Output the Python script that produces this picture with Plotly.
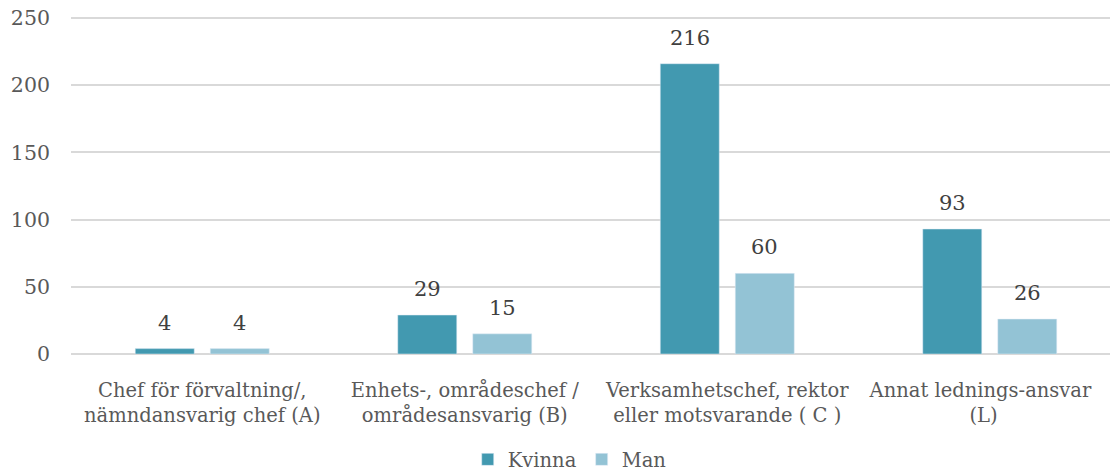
import plotly.graph_objects as go

categories = ["Chef för förvaltning/,<br>nämndansvarig chef (A)",
              "Enhets-, områdeschef /<br>områdesansvarig (B)",
              "Verksamhetschef, rektor<br>eller motsvarande ( C )",
              "Annat lednings-ansvar<br>(L)"]
kvinna = [4, 29, 216, 93]
man = [4, 15, 60, 26]
y_ticks = [0, 50, 100, 150, 200, 250]

# display text of the category labels (the last one nudged left to stay inside, as in the reference)
NB = "\u00a0"
tick_text = categories[:3] + ["Annat lednings-ansvar" + NB * 3 + "<br>(L)" + NB * 2]

FONT = "DejaVu Serif"
TXT = "#595959"

fig = go.Figure()
fig.add_trace(go.Bar(name="Kvinna", x=categories, y=kvinna, marker_color="#4299B0"))
fig.add_trace(go.Bar(name="Man", x=categories, y=man, marker_color="#93C3D5"))

annotations = []
for i, series in enumerate([kvinna, man]):
    for c, v in zip(categories, series):
        annotations.append(dict(x=c, y=v, text=str(v), showarrow=False,
                                xref="x", yref="y", yanchor="bottom",
                                xshift=(-37.5 if i == 0 else 37.5), yshift=12,
                                font=dict(family=FONT, size=21, color="#404040")))

fig.update_layout(
    width=1110, height=475,
    margin=dict(l=71, r=0, t=16, b=121, autoexpand=False),
    paper_bgcolor="white", plot_bgcolor="white",
    barmode="group", bargap=0.4286, bargroupgap=0.213,
    font=dict(family=FONT, size=19.5, color=TXT),
    showlegend=True,
    legend=dict(orientation="h", x=0.48, xanchor="center", y=-0.255, yanchor="top",
                font=dict(family=FONT, size=19.5, color=TXT)),
    annotations=annotations,
)
fig.update_xaxes(range=[-0.5, 3.458], showgrid=False, showline=False, ticks="",
                 automargin=False, ticklabelstandoff=22,
                 tickmode="array", tickvals=categories, ticktext=tick_text,
                 tickfont=dict(family=FONT, size=19.5, color=TXT))
fig.update_yaxes(range=[0, 251.5], tickvals=y_ticks, showgrid=True, gridcolor="#D9D9D9",
                 gridwidth=1.5, zeroline=True, zerolinecolor="#D9D9D9", zerolinewidth=1.5,
                 ticks="", ticklabelstandoff=20, automargin=False, ticklabeloverflow="allow",
                 tickfont=dict(family=FONT, size=20.5, color=TXT))

# remove the default 8px page margin so the figure fills the window exactly
fig.write_html("out.html", config={"displayModeBar": False},
               post_script="document.body.style.margin='0px';")
